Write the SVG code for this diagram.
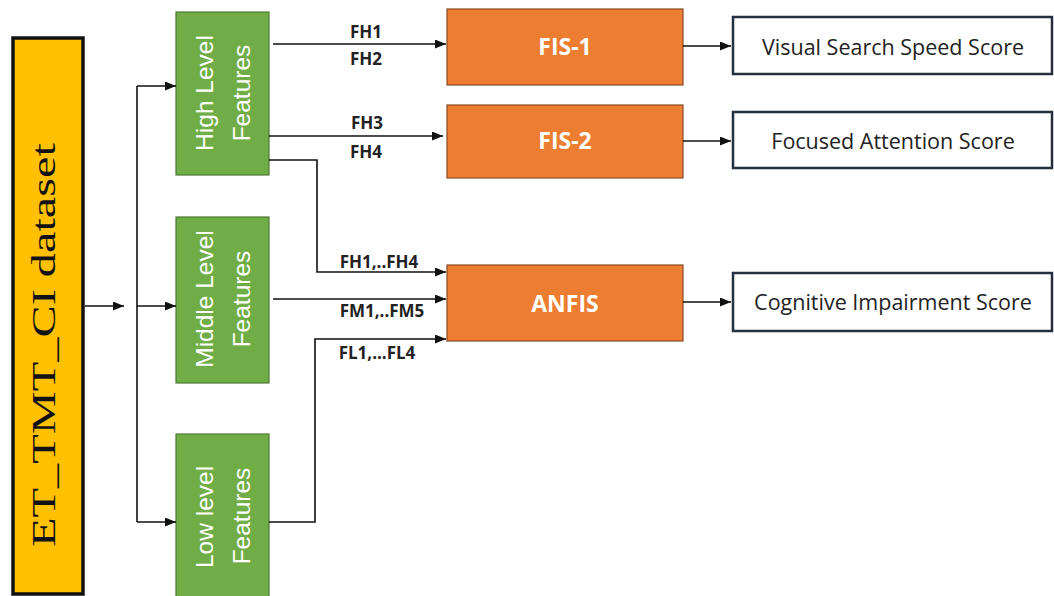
<svg xmlns="http://www.w3.org/2000/svg" width="1054" height="596" viewBox="0 0 1054 596">
  <defs>
    <marker id="arr" markerWidth="11" markerHeight="9" refX="11" refY="4.5" orient="auto" markerUnits="userSpaceOnUse">
      <path d="M0,0 L11,4.5 L0,9 Z" fill="#111"/>
    </marker>
    <style>
      .dataset { fill: #FFC000; stroke: #111; stroke-width: 3.5; }
      .feat { fill: #70AD47; stroke: #4E7A31; stroke-width: 1.2; }
      .fis { fill: #ED7D31; stroke: #8a4a22; stroke-width: 1.2; }
      .out { fill: #fff; stroke: #25303f; stroke-width: 2.5; }
      .featTxt { font-family: "Liberation Sans", Arial, sans-serif; font-size: 24.5px; fill: #fff; text-anchor: middle; }
      .fisTxt { font-family: "Open Sans", "Noto Sans", sans-serif; font-weight: bold; font-size: 23px; fill: #fff; text-anchor: middle; }
      .outTxt { font-family: "Open Sans", "Noto Sans", sans-serif; font-size: 21.5px; fill: #222; text-anchor: middle; }
      .lbl { font-family: "Open Sans", "Noto Sans", sans-serif; font-weight: bold; font-size: 17px; fill: #222; text-anchor: middle; }
      .wire { fill: none; stroke: #111; stroke-width: 1.6; }
    </style>
  </defs>
  <rect width="1054" height="596" fill="#fff"/>

  <!-- dataset source -->
  <g id="dataset">
    <rect class="dataset" x="13" y="38" width="70" height="556"/>
    <text transform="translate(55,547) rotate(-90)" font-family="Liberation Serif, 'Times New Roman', serif" font-size="34" fill="#111" textLength="404" lengthAdjust="spacingAndGlyphs">ET_TMT_CI dataset</text>
  </g>

  <!-- feature groups -->
  <g id="high-features">
    <rect class="feat" x="176" y="12" width="93" height="163"/>
    <text class="featTxt" transform="translate(213,93) rotate(-90)">High Level</text>
    <text class="featTxt" transform="translate(250,93) rotate(-90)">Features</text>
  </g>
  <g id="middle-features">
    <rect class="feat" x="176" y="217" width="93" height="166"/>
    <text class="featTxt" transform="translate(213,299) rotate(-90)">Middle Level</text>
    <text class="featTxt" transform="translate(250,299) rotate(-90)">Features</text>
  </g>
  <g id="low-features">
    <rect class="feat" x="176" y="434" width="93" height="170"/>
    <text class="featTxt" transform="translate(213,517) rotate(-90)">Low level</text>
    <text class="featTxt" transform="translate(250,516) rotate(-90)">Features</text>
  </g>

  <!-- inference systems -->
  <g id="fis-1">
    <rect class="fis" x="447" y="9" width="236" height="76"/>
    <text class="fisTxt" x="565" y="55">FIS-1</text>
  </g>
  <g id="fis-2">
    <rect class="fis" x="447" y="105" width="236" height="73"/>
    <text class="fisTxt" x="565" y="149">FIS-2</text>
  </g>
  <g id="anfis">
    <rect class="fis" x="447" y="265" width="236" height="76"/>
    <text class="fisTxt" x="565" y="312">ANFIS</text>
  </g>

  <!-- scores -->
  <g id="score-visual">
    <rect class="out" x="733" y="17" width="319" height="57"/>
    <text class="outTxt" x="893" y="55">Visual Search Speed Score</text>
  </g>
  <g id="score-attention">
    <rect class="out" x="733" y="112" width="319" height="56"/>
    <text class="outTxt" x="893" y="149">Focused Attention Score</text>
  </g>
  <g id="score-cognitive">
    <rect class="out" x="733" y="273" width="319" height="58"/>
    <text class="outTxt" x="893" y="310">Cognitive Impairment Score</text>
  </g>

  <!-- connectors -->
  <g id="connectors">
    <line class="wire" x1="85" y1="306" x2="124" y2="306" marker-end="url(#arr)"/>
    <line class="wire" x1="137" y1="86" x2="137" y2="522" stroke="#444"/>
    <line class="wire" x1="137" y1="86" x2="176" y2="86" marker-end="url(#arr)"/>
    <line class="wire" x1="137" y1="306" x2="176" y2="306" marker-end="url(#arr)"/>
    <line class="wire" x1="137" y1="522" x2="176" y2="522" marker-end="url(#arr)"/>

    <line class="wire" x1="273" y1="44" x2="446" y2="44" marker-end="url(#arr)"/>
    <line class="wire" x1="269" y1="136" x2="443" y2="136" marker-end="url(#arr)"/>
    <polyline class="wire" points="269,160 317,160 317,272 446,272" marker-end="url(#arr)"/>
    <line class="wire" x1="273" y1="299" x2="446" y2="299" marker-end="url(#arr)"/>
    <polyline class="wire" points="269,522 315,522 315,339 446,339" marker-end="url(#arr)"/>

    <line class="wire" x1="683" y1="46" x2="731" y2="46" marker-end="url(#arr)"/>
    <line class="wire" x1="683" y1="141" x2="731" y2="141" marker-end="url(#arr)"/>
    <line class="wire" x1="683" y1="302" x2="731" y2="302" marker-end="url(#arr)"/>

    <text class="lbl" x="366" y="38">FH1</text>
    <text class="lbl" x="366" y="65">FH2</text>
    <text class="lbl" x="367" y="129">FH3</text>
    <text class="lbl" x="366" y="158">FH4</text>
    <text class="lbl" x="379" y="268">FH1,..FH4</text>
    <text class="lbl" x="382" y="317">FM1,..FM5</text>
    <text class="lbl" x="377" y="359">FL1,...FL4</text>
  </g>
</svg>
